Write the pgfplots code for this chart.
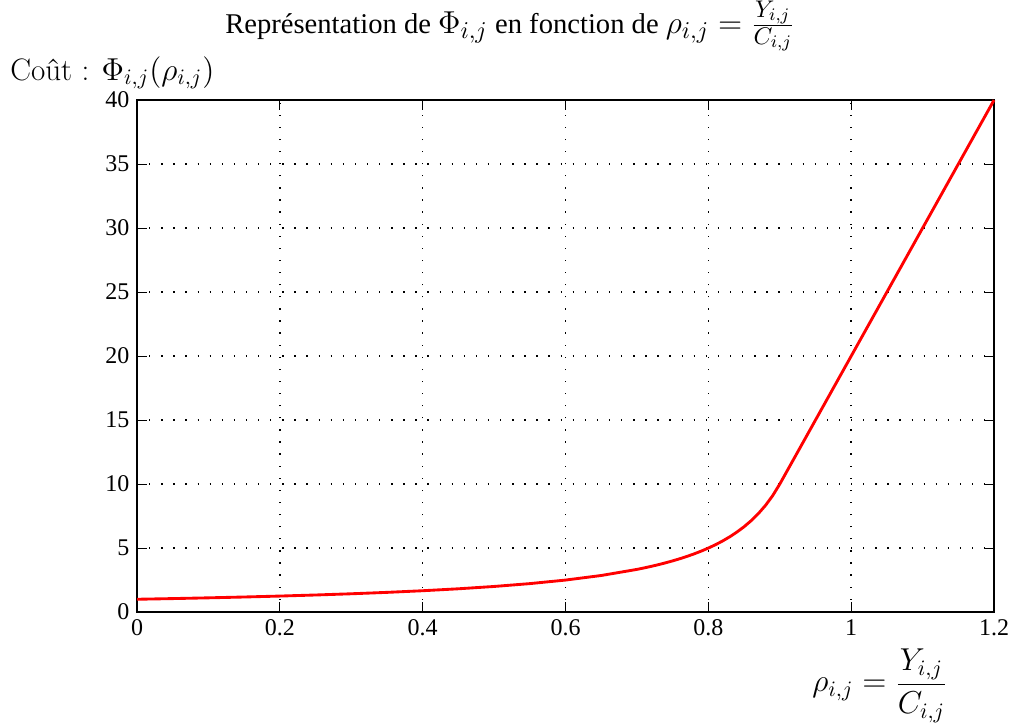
\documentclass[border=0pt]{standalone}
\usepackage{fontspec}
\setmainfont{Liberation Serif}
\newfontfamily\lmfont{Latin Modern Roman}
\usepackage{pgfplots}
\pgfplotsset{compat=1.18}
\newcommand{\bigmath}[1]{{\fontsize{15.5}{18}\selectfont$#1$}}

\begin{document}
\begin{tikzpicture}
\path[use as bounding box] (-62.3pt,-50pt) rectangle (399.5pt,278.2pt);
\begin{axis}[
  scale only axis,
  width=389.5pt, height=232.7pt,
  xmin=0, xmax=1.2, ymin=0, ymax=40,
  xtick={0,0.2,0.4,0.6,0.8,1,1.2},
  ytick={0,5,10,15,20,25,30,35,40},
  xticklabels={0,0.2,0.4,0.6,0.8,1,1.2},
  yticklabels={0,5,10,15,20,25,30,35,40},
  tick label style={font=\rmfamily\fontsize{10.9}{13}\selectfont},
  /pgf/number format/assume math mode=true,
  tick align=inside,
  major tick length=4.5pt,
  tick style={black, line width=0.5pt},
  axis line style={line width=0.8pt},
  grid=major,
  major grid style={black, line width=0.7pt, dash pattern=on 0.6pt off 4.9pt},
  clip=false,
]
\addplot[red, line width=1.3pt] coordinates {
  (0,1) (0.05,1.0526) (0.1,1.1111) (0.15,1.1765) (0.2,1.25)
  (0.25,1.3333) (0.3,1.4286) (0.35,1.5385) (0.4,1.6667) (0.45,1.8182)
  (0.5,2) (0.55,2.2222) (0.6,2.5) (0.65,2.8571) (0.7,3.3333)
  (0.71,3.4483) (0.72,3.5714) (0.73,3.7037) (0.74,3.8462) (0.75,4)
  (0.76,4.1667) (0.77,4.3478) (0.78,4.5455) (0.79,4.7619) (0.8,5)
  (0.81,5.2632) (0.82,5.5556) (0.83,5.8824) (0.84,6.25) (0.85,6.6667)
  (0.86,7.1429) (0.87,7.6923) (0.88,8.3333) (0.89,9.0909) (0.9,10)
  (1.2,40)
};
\end{axis}
% title, axis labels
\node[anchor=base, font=\fontsize{13}{15}\selectfont] at (169.5pt,263pt)
  {Représentation de \bigmath{\Phi_{i,j}} en fonction de \bigmath{\rho_{i,j}=\frac{Y_{i,j}}{C_{i,j}}}};
\node[anchor=base west, inner sep=0pt, font=\fontsize{14.1}{17}\selectfont] at (-57.8pt,241.8pt)
  {\lmfont Coût : $\Phi_{i,j}(\rho_{i,j})$};
\node[anchor=center, inner sep=0pt, font=\fontsize{14.2}{17}\selectfont] at (337.7pt,-33.5pt)
  {$\displaystyle \rho_{i,j} = \frac{Y_{i,j}}{C_{i,j}}$};
\end{tikzpicture}
\end{document}
